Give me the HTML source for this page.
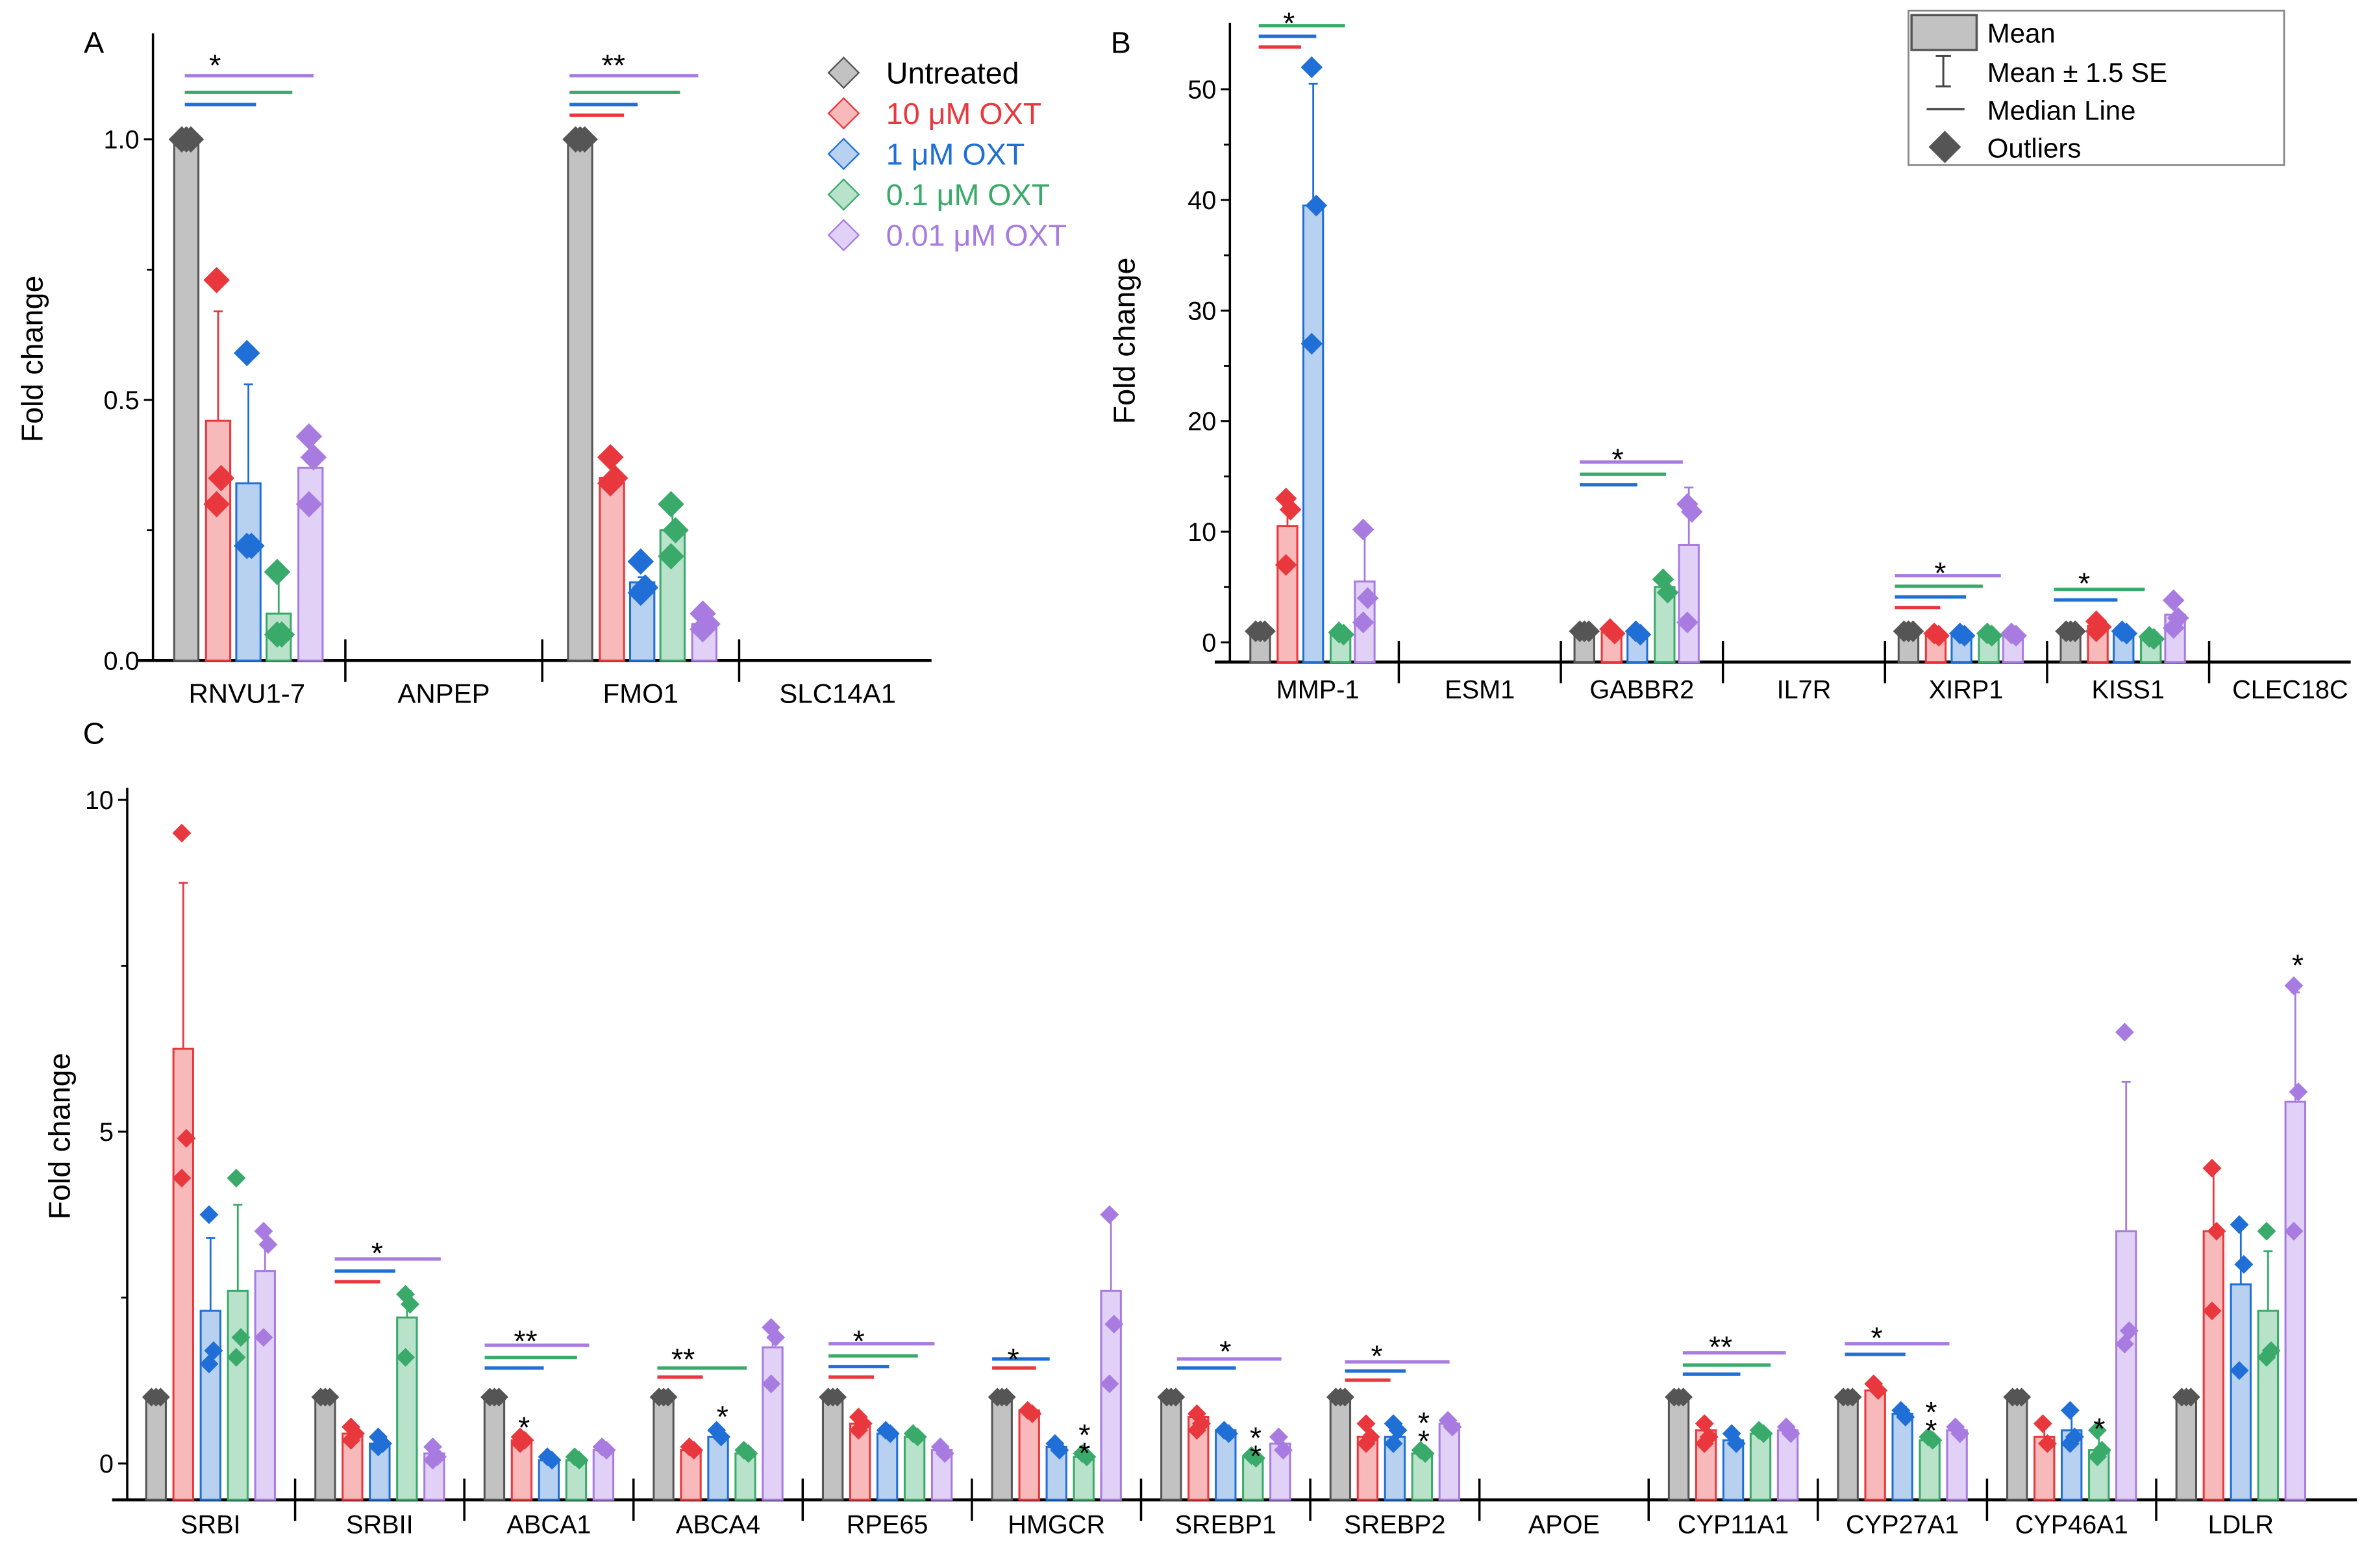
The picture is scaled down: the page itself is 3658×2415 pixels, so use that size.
<!DOCTYPE html>
<html><head><meta charset="utf-8"><style>
html,body{margin:0;padding:0;background:#fff;}
svg{display:block;font-family:"Liberation Sans",sans-serif;}
</style></head><body>
<svg id="fig" width="3658" height="2415" viewBox="0 0 1568 1035" preserveAspectRatio="none" xmlns="http://www.w3.org/2000/svg"></svg>
<script>
// ---------- Panel A data ----------
const A_categories = ["RNVU1-7","ANPEP","FMO1","SLC14A1"];
const A_gray = [1,null,1,null];
const A_red = [0.46,null,0.35,null];
const A_red_err = [0.67,null,0.35,null];
const A_red_pts = [[0.73,0.35,0.30],[],[0.39,0.35,0.34],[]];
const A_blue = [0.34,null,0.15,null];
const A_blue_err = [0.53,null,0.16,null];
const A_blue_pts = [[0.59,0.22,0.22],[],[0.19,0.14,0.13],[]];
const A_green = [0.09,null,0.25,null];
const A_green_err = [0.17,null,0.30,null];
const A_green_pts = [[0.17,0.05,0.05],[],[0.30,0.25,0.20],[]];
const A_purple = [0.37,null,0.07,null];
const A_purple_err = [0.38,null,0.08,null];
const A_purple_pts = [[0.43,0.39,0.30],[],[0.09,0.07,0.06],[]];
const A_ticks = [0,0.5,1.0];
const A_tickLabels = ["0.0","0.5","1.0"];

// ---------- Panel B data ----------
const B_categories = ["MMP-1","ESM1","GABBR2","IL7R","XIRP1","KISS1","CLEC18C"];
const B_gray = [1,null,1,null,1,1,null];
const B_red = [10.5,null,0.9,null,0.7,1.5,null];
const B_red_err = [12,null,1,null,0.8,1.7,null];
const B_red_pts = [[13,12,7],[],[1.2,0.8],[],[0.8,0.6],[1.9,1.4,1],[]];
const B_blue = [39.5,null,0.8,null,0.7,0.9,null];
const B_blue_err = [50.5,null,0.9,null,0.8,1,null];
const B_blue_pts = [[52,39.5,27],[],[1,0.7],[],[0.8,0.6],[1,0.8],[]];
const B_green = [0.8,null,5,null,0.7,0.4,null];
const B_green_err = [0.9,null,5.5,null,0.8,0.5,null];
const B_green_pts = [[0.9,0.7],[],[5.7,4.5],[],[0.8,0.6],[0.5,0.3],[]];
const B_purple = [5.5,null,8.8,null,0.7,2.5,null];
const B_purple_err = [10,null,14,null,0.8,3.8,null];
const B_purple_pts = [[10.2,4,1.8],[],[12.5,11.8,1.8],[],[0.8,0.6],[3.8,2.2,1.3],[]];
const B_ticks = [0,10,20,30,40,50];

// ---------- Panel C data ----------
const C_categories = ["SRBI","SRBII","ABCA1","ABCA4","RPE65","HMGCR","SREBP1","SREBP2","APOE","CYP11A1","CYP27A1","CYP46A1","LDLR"];
const C_gray = [1,1,1,1,1,1,1,1,null,1,1,1,1];
const C_red = [6.25,0.45,0.35,0.2,0.6,0.8,0.7,0.4,null,0.5,1.1,0.4,3.5];
const C_red_err = [8.75,0.5,0.4,0.25,0.7,0.85,0.75,0.6,null,0.6,1.15,0.6,4.45];
const C_red_pts = [[9.5,4.9,4.3],[0.55,0.45,0.35],[0.4,0.35,0.3],[0.25,0.2],[0.7,0.6,0.5],[0.8,0.75],[0.75,0.6,0.5],[0.6,0.4,0.3],[],[0.6,0.4,0.3],[1.2,1.1],[0.6,0.3],[4.45,3.5,2.3]];
const C_blue = [2.3,0.3,0.05,0.4,0.45,0.25,0.5,0.4,null,0.35,0.75,0.5,2.7];
const C_blue_err = [3.4,0.4,0.1,0.5,0.5,0.3,0.55,0.6,null,0.45,0.85,0.8,3.6];
const C_blue_pts = [[3.75,1.7,1.5],[0.4,0.3,0.25],[0.1,0.05],[0.5,0.4],[0.5,0.45],[0.3,0.2],[0.5,0.45],[0.6,0.5,0.3],[],[0.45,0.3],[0.8,0.7],[0.8,0.4,0.3],[3.6,3.0,1.4]];
const C_green = [2.6,2.2,0.05,0.15,0.4,0.1,0.1,0.15,null,0.45,0.35,0.2,2.3];
const C_green_err = [3.9,2.6,0.1,0.2,0.45,0.15,0.12,0.2,null,0.5,0.4,0.5,3.2];
const C_green_pts = [[4.3,1.9,1.6],[2.55,2.4,1.6],[0.1,0.05],[0.2,0.15],[0.45,0.4],[0.15,0.1],[0.12,0.08],[0.2,0.15],[],[0.5,0.45],[0.4,0.35],[0.5,0.2,0.1],[3.5,1.7,1.6]];
const C_purple = [2.9,0.15,0.2,1.75,0.2,2.6,0.3,0.6,null,0.5,0.5,3.5,5.45];
const C_purple_err = [3.5,0.25,0.25,2.05,0.25,3.7,0.4,0.65,null,0.55,0.55,5.75,7.1];
const C_purple_pts = [[3.5,3.3,1.9],[0.25,0.1,0.05],[0.25,0.2],[2.05,1.9,1.2],[0.25,0.15],[3.75,2.1,1.2],[0.4,0.2],[0.65,0.55],[],[0.55,0.45],[0.55,0.45],[6.5,2,1.8],[7.2,5.6,3.5]];
const C_ticks = [0,5,10];

const COL = {gray:"#555555",red:"#e8383d",blue:"#1f6fd6",green:"#3aaa6a",purple:"#a87be0"};
const FILL = {gray:"#c2c2c2",red:"#f7b9b9",blue:"#b9d1f1",green:"#b9e2ca",purple:"#e2d1f6"};
const NS = "http://www.w3.org/2000/svg";
const svg = document.getElementById("fig");

function el(tag, attrs, parent, text){
  const e = document.createElementNS(NS, tag);
  for (const k in attrs) e.setAttribute(k, attrs[k]);
  if (text !== undefined) e.textContent = text;
  (parent || svg).appendChild(e);
  return e;
}
function diamond(cx, cy, r, fill, stroke, parent){
  return el("polygon",{points:`${cx},${cy-r} ${cx+r},${cy} ${cx},${cy+r} ${cx-r},${cy}`,fill:fill,stroke:stroke,"stroke-width":1},parent);
}

function drawPanel(cfg){
  const g = el("g",{});
  
  
  const y = v => cfg.y0 - v*cfg.scale;
  // y axis
  const ya = el("line",{x1:cfg.ax,y1:cfg.axTop,x2:cfg.ax,y2:cfg.axBottom,stroke:"#000","stroke-width":1.5},g);
  
  
  cfg.ticks.forEach((t,i)=>{
    el("line",{x1:cfg.ax-6,y1:y(t),x2:cfg.ax,y2:y(t),stroke:"#000","stroke-width":1.3},g);
    const lab = el("text",{x:cfg.ax-9,y:y(t)+6,"text-anchor":"end","font-size":cfg.tickFont,fill:"#000"},g,cfg.tickLabels?cfg.tickLabels[i]:String(t));
    
    
    if (i < cfg.ticks.length-1){
      const m = (t + cfg.ticks[i+1])/2;
      el("line",{x1:cfg.ax-4,y1:y(m),x2:cfg.ax,y2:y(m),stroke:"#000","stroke-width":1.2},g);
    }
  });
  // x axis
  const xa = el("line",{x1:cfg.ax-10,y1:cfg.axBottom,x2:cfg.axRight,y2:cfg.axBottom,stroke:"#000","stroke-width":2},g);
  
  
  // categories
  cfg.cats.forEach((c,i)=>{
    const cx = cfg.c0 + i*cfg.cw;
    const lab = el("text",{x:cx,y:cfg.axBottom+cfg.labDy,"text-anchor":"middle","font-size":cfg.labFont,fill:"#000"},g,c);
    
    
    if (i>0){
      const dx = cx - cfg.cw/2;
      el("line",{x1:dx,y1:cfg.axBottom-14,x2:dx,y2:cfg.axBottom+14,stroke:"#000","stroke-width":1.5},g);
    }
    cfg.series.forEach((s,k)=>{
      const v = s.mean[i];
      if (v===null || v===undefined) return;
      const bx = cx + cfg.offs[k];
      const bar = el("rect",{x:bx-cfg.bw/2,y:y(v),width:cfg.bw,height:cfg.axBottom-y(v),fill:FILL[s.key],stroke:COL[s.key],"stroke-width":1.3},g);
      
      
      if (s.err && s.err[i]!=null && s.err[i]>v){
        el("line",{x1:bx,y1:y(v),x2:bx,y2:y(s.err[i]),stroke:COL[s.key],"stroke-width":1.2},g);
        el("line",{x1:bx-3,y1:y(s.err[i]),x2:bx+3,y2:y(s.err[i]),stroke:COL[s.key],"stroke-width":1.2},g);
      }
      const pts = s.pts ? s.pts[i] : [v,v,v];
      pts.forEach((p,j)=>{
        const jx = s.key==="gray" ? (j-1)*3 : ((j%2)?2:-1);
        const d = diamond(bx+jx, y(p), cfg.dr, COL[s.key], COL[s.key], g);
        
        
      });
    });
  });
  // y title
  const tt = el("text",{x:cfg.titleX,y:cfg.titleY,"text-anchor":"middle","font-size":20,fill:"#000",transform:`rotate(-90 ${cfg.titleX} ${cfg.titleY})`},g,"Fold change");
  
  
  return g;
}

function series(p){
  return [
    {key:"gray",mean:window[p+"_gray"]},
    {key:"red",mean:window[p+"_red"],err:window[p+"_red_err"],pts:window[p+"_red_pts"]},
    {key:"blue",mean:window[p+"_blue"],err:window[p+"_blue_err"],pts:window[p+"_blue_pts"]},
    {key:"green",mean:window[p+"_green"],err:window[p+"_green_err"],pts:window[p+"_green_pts"]},
    {key:"purple",mean:window[p+"_purple"],err:window[p+"_purple_err"],pts:window[p+"_purple_pts"]}
  ];
}
const SA = [{key:"gray",mean:A_gray},{key:"red",mean:A_red,err:A_red_err,pts:A_red_pts},{key:"blue",mean:A_blue,err:A_blue_err,pts:A_blue_pts},{key:"green",mean:A_green,err:A_green_err,pts:A_green_pts},{key:"purple",mean:A_purple,err:A_purple_err,pts:A_purple_pts}];
const SB = [{key:"gray",mean:B_gray},{key:"red",mean:B_red,err:B_red_err,pts:B_red_pts},{key:"blue",mean:B_blue,err:B_blue_err,pts:B_blue_pts},{key:"green",mean:B_green,err:B_green_err,pts:B_green_pts},{key:"purple",mean:B_purple,err:B_purple_err,pts:B_purple_pts}];
const SC = [{key:"gray",mean:C_gray},{key:"red",mean:C_red,err:C_red_err,pts:C_red_pts},{key:"blue",mean:C_blue,err:C_blue_err,pts:C_blue_pts},{key:"green",mean:C_green,err:C_green_err,pts:C_green_pts},{key:"purple",mean:C_purple,err:C_purple_err,pts:C_purple_pts}];

drawPanel({name:"panel-a",ax:101,axTop:22,axBottom:436,axRight:615,y0:436,scale:344,ticks:A_ticks,tickLabels:A_tickLabels,tickFont:17,
  cats:A_categories,c0:163,cw:130,offs:[-40,-19,1,21,42],bw:16,dr:8,series:SA,labDy:28,labFont:18,titleX:28,titleY:237});
drawPanel({name:"panel-b",ax:812,axTop:15,axBottom:437,axRight:1552,y0:424,scale:7.3,ticks:B_ticks,tickFont:17,
  cats:B_categories,c0:870,cw:107,offs:[-38,-20,-3,15,31],bw:13,dr:6.5,series:SB,labDy:24,labFont:17,titleX:749,titleY:225});
drawPanel({name:"panel-c",ax:84,axTop:520,axBottom:990,axRight:1556,y0:966,scale:43.8,ticks:C_ticks,tickFont:17,
  cats:C_categories,c0:139,cw:111.7,offs:[-36,-18,0,18,36],bw:13,dr:5.5,series:SC,labDy:22,labFont:17,titleX:46,titleY:750});

// significance lines
const sigLines = [
 // [x1,x2,y,color]
 [122,207,50,"purple"],[122,193,61,"green"],[122,169,69,"blue"],
 [376,461,50,"purple"],[376,449,61,"green"],[376,421,69,"blue"],[376,412,76,"red"],
 [831,888,17,"green"],[831,869,24,"blue"],[831,859,31,"red"],
 [1043,1111,305,"purple"],[1043,1100,313,"green"],[1043,1081,320,"blue"],
 [1251,1321,380,"purple"],[1251,1309,387,"green"],[1251,1298,394,"blue"],[1251,1281,401,"red"],
 [1356,1416,389,"green"],[1356,1398,396,"blue"],
 [221,291,831,"purple"],[221,261,839,"blue"],[221,251,846,"red"],
 [320,389,888,"purple"],[320,381,896,"green"],[320,359,903,"blue"],
 [434,493,903,"green"],[434,464,909,"red"],
 [547,617,887,"purple"],[547,606,895,"green"],[547,587,902,"blue"],[547,577,909,"red"],
 [655,693,897,"blue"],[655,684,903,"red"],
 [777,846,897,"purple"],[777,816,903,"blue"],
 [888,957,899,"purple"],[888,928,905,"blue"],[888,918,911,"red"],
 [1111,1179,893,"purple"],[1111,1169,901,"green"],[1111,1149,907,"blue"],
 [1218,1287,887,"purple"],[1218,1258,894,"blue"]
];
sigLines.forEach(s=>{
  const l = el("line",{x1:s[0],x2:s[1],y1:s[2],y2:s[2],stroke:COL[s[3]],"stroke-width":2.2});
  
  
});
const stars = [
 [142,44,"*"],[405,44,"**"],[851,16,"*"],[1068,304,"*"],[1281,379,"*"],[1376,386,"*"],
 [249,828,"*"],[347,886,"**"],[451,898,"**"],[567,886,"*"],[669,898,"*"],[809,893,"*"],[909,896,"*"],
 [1136,890,"**"],[1239,884,"*"],
 [346,943,"*"],[477,936,"*"],[716,948,"*"],[716,960,"*"],[829,950,"*"],[829,962,"*"],
 [940,940,"*"],[940,952,"*"],[1275,933,"*"],[1275,945,"*"],[1386,944,"*"],[1517,638,"*"]
];
stars.forEach(s=>{
  const t = el("text",{x:s[0],y:s[1]+6,"text-anchor":"middle","font-size":20,fill:"#000"},svg,s[2]);
  
  
});

// panel letters
[["A",62,35],["B",740,35],["C",62,491]].forEach(p=>{
  const t = el("text",{x:p[1],y:p[2],"text-anchor":"middle","font-size":20,fill:"#000"},svg,p[0]);
  
  
});

// legend A
const legA = el("g",{});


const legItems = [["Untreated","gray","#000"],["10 μM OXT","red","#e8383d"],["1 μM OXT","blue","#1f6fd6"],["0.1 μM OXT","green","#3aaa6a"],["0.01 μM OXT","purple","#a87be0"]];
legItems.forEach((it,i)=>{
  const yy = 48 + i*26.8;
  const d = diamond(557, yy, 10, FILL[it[1]], COL[it[1]], legA);
  
  
  const t = el("text",{x:585,y:yy+7,"font-size":20,fill:it[2]},legA,it[0]);
  
  
});

// legend B
const legB = el("g",{});


el("rect",{x:1260,y:7,width:248,height:102,fill:"#fff",stroke:"#888","stroke-width":1.2},legB);
el("rect",{x:1262,y:10,width:43,height:23,fill:"#c2c2c2",stroke:"#555","stroke-width":1.5},legB);
el("line",{x1:1283,y1:37,x2:1283,y2:57,stroke:"#444","stroke-width":1.3},legB);
el("line",{x1:1278,y1:37,x2:1288,y2:37,stroke:"#444","stroke-width":1.3},legB);
el("line",{x1:1278,y1:57,x2:1288,y2:57,stroke:"#444","stroke-width":1.3},legB);
el("line",{x1:1272,y1:72,x2:1297,y2:72,stroke:"#444","stroke-width":1.5},legB);
diamond(1284,97,10,"#555","#555",legB);
[["Mean",28],["Mean ± 1.5 SE",54],["Median Line",79],["Outliers",104]].forEach(p=>{
  const t = el("text",{x:1312,y:p[1],"font-size":18,fill:"#000"},legB,p[0]);
  
  
});
</script>
</body></html>
